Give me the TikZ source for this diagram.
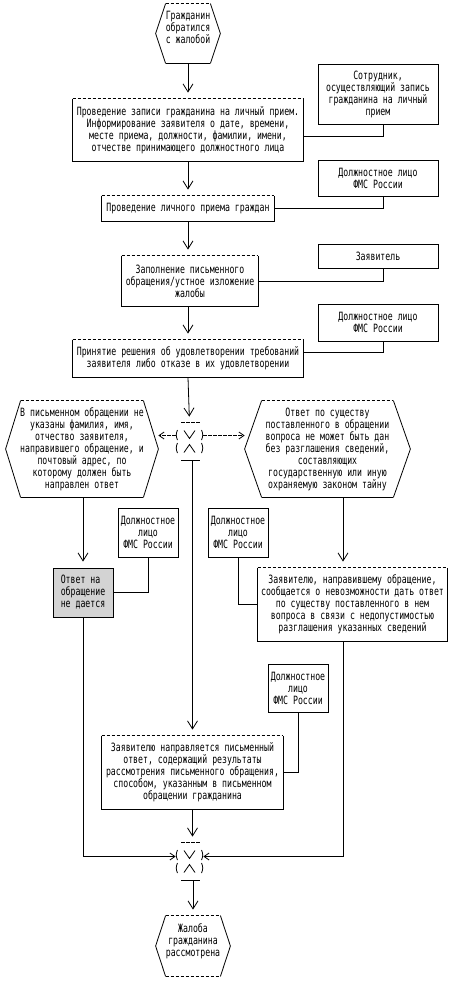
\documentclass[tikz,border=0pt]{standalone}
\usepackage{fontspec}
\newfontfamily\asciifont[FakeStretch=0.72]{DejaVu Sans Mono}
\usetikzlibrary{arrows.meta, positioning, calc}
\definecolor{shade}{HTML}{D3D3D3}

\tikzset{
  txt/.style={font=\asciifont\fontsize{11.4}{12}\selectfont, align=center, inner sep=0pt},
  rolebox/.style={txt, draw},
  procbox/.style={txt},
  hexbox/.style={txt},
  gatebox/.style={inner sep=0pt, minimum width=27pt, minimum height=37pt},
  dashline/.style={dash pattern=on 3.5pt off 1.5pt},
  flowarrow/.style={-{Straight Barb[length=8pt,width=10pt]}, shorten >=6pt},
  sidearrow/.style={-{Straight Barb[length=5pt,width=7pt]}},
}

% box with a dashed top edge
\newcommand{\procframe}[1]{%
  \draw[dashline] (#1.north west) -- (#1.north east);
  \draw (#1.north west) -- (#1.south west) -- (#1.south east) -- (#1.north east);
}
% hexagon: node, inset, top style, bottom style
\newcommand{\hexframe}[4]{%
  \draw[#3] ($(#1.north west)+(#2,0)$) -- ($(#1.north east)+(-#2,0)$);
  \draw[#4] ($(#1.south west)+(#2,0)$) -- ($(#1.south east)+(-#2,0)$);
  \draw ($(#1.north west)+(#2,0)$) -- (#1.west) -- ($(#1.south west)+(#2,0)$);
  \draw ($(#1.north east)+(-#2,0)$) -- (#1.east) -- ($(#1.south east)+(-#2,0)$);
}
% branching point
\newcommand{\gateframe}[1]{%
  \draw[dashline] ($(#1.north)+(-8.5,0)$) -- ($(#1.north)+(10.5,0)$);
  \draw ($(#1.south)+(-8.5,0)$) -- ($(#1.south)+(10.5,0)$);
  \draw ($(#1.center)+(-5.5,-11)$) -- ($(#1.center)+(0,-3)$) -- ($(#1.center)+(5.5,-11)$)
        ($(#1.center)+(-5.5,11)$) -- ($(#1.center)+(0,3)$) -- ($(#1.center)+(5.5,11)$);
  \draw ($(#1.center)+(-12,-11.5)$) to[bend right=25] ($(#1.center)+(-12,-1.5)$)
        ($(#1.center)+(-12,1.5)$) to[bend right=25] ($(#1.center)+(-12,11.5)$)
        ($(#1.center)+(12,-11.5)$) to[bend left=25] ($(#1.center)+(12,-1.5)$)
        ($(#1.center)+(12,1.5)$) to[bend left=25] ($(#1.center)+(12,11.5)$);
}

\begin{document}
\begin{tikzpicture}[x=1pt, y=-1pt, line width=0.8pt]
  \useasboundingbox (0,0) rectangle (456,983);

  % main column
  \node[hexbox, minimum width=64pt, minimum height=59pt] (start) at (188,33.5)
    {Гражданин\\обратился\\с жалобой\\~};
  \hexframe{start}{10}{dashline}{}

  \node[procbox, minimum width=230pt, minimum height=62pt] (record) at (188,130)
    {Проведение записи гражданина на личный прием.\\Информирование заявителя о дате, времени,\\месте приема, должности, фамилии, имени,\\отчестве принимающего должностного лица};
  \procframe{record}

  \node[procbox, minimum width=172pt, minimum height=25pt] (reception) at (188,208.5)
    {Проведение личного приема граждан};
  \procframe{reception}

  \node[procbox, minimum width=136pt, minimum height=50pt] (filling) at (190,281)
    {Заполнение письменного\\обращения/устное изложение\\жалобы};
  \procframe{filling}

  \node[procbox, minimum width=230pt, minimum height=37pt] (decision) at (188,358.5)
    {Принятие решения об удовлетворении требований\\заявителя либо отказе в их удовлетворении};
  \procframe{decision}

  \node[gatebox] (gateA) at (189.5,441.5) {};
  \gateframe{gateA}

  % who does what
  \node[rolebox, minimum width=120pt, minimum height=60pt] (clerk) at (378,94)
    {Сотрудник,\\осуществляющий запись\\гражданина на личный\\прием};
  \node[rolebox, minimum width=120pt, minimum height=36pt] (officerA) at (378,178)
    {Должностное лицо\\ФМС России};
  \node[rolebox, minimum width=120pt, minimum height=24pt] (applicant) at (378,256)
    {Заявитель};
  \node[rolebox, minimum width=120pt, minimum height=37pt] (officerB) at (378,322.5)
    {Должностное лицо\\ФМС России};

  % branches
  \node[hexbox, minimum width=152pt, minimum height=96pt] (nodata) at (82,449)
    {В письменном обращении не\\указаны фамилия, имя,\\отчество заявителя,\\направившего обращение, и\\почтовый адрес, по\\которому должен быть\\направлен ответ};
  \hexframe{nodata}{15}{dashline}{}

  \node[hexbox, minimum width=165pt, minimum height=96pt] (secret) at (327.5,449)
    {Ответ по существу\\поставленного в обращении\\вопроса не может быть дан\\без разглашения сведений,\\составляющих\\государственную или иную\\охраняемую законом тайну};
  \hexframe{secret}{17}{dashline}{}

  \node[rolebox, fill=shade, align=left, minimum width=60pt, minimum height=49pt] (noanswer) at (83,592.5)
    {Ответ на\\обращение\\не дается};
  \node[rolebox, minimum width=60pt, minimum height=49pt] (officerC) at (148,532.5)
    {Должностное\\лицо\\ФМС России};
  \node[rolebox, minimum width=60pt, minimum height=49pt] (officerD) at (238,532.5)
    {Должностное\\лицо\\ФМС России};

  \node[procbox, minimum width=189pt, minimum height=73pt] (notify) at (352.5,604.5)
    {Заявителю, направившему обращение,\\сообщается о невозможности дать ответ\\по существу поставленного в нем\\вопроса в связи с недопустимостью\\разглашения указанных сведений};
  \procframe{notify}

  \node[rolebox, minimum width=60pt, minimum height=48pt] (officerE) at (298,688)
    {Должностное\\лицо\\ФМС России};

  \node[procbox, minimum width=181pt, minimum height=73pt] (reply) at (192.5,772.5)
    {Заявителю направляется письменный\\ответ, содержащий результаты\\рассмотрения письменного обращения,\\способом, указанным в письменном\\обращении гражданина};
  \procframe{reply}

  \node[gatebox] (gateB) at (189.5,861.5) {};
  \gateframe{gateB}

  \node[hexbox, minimum width=74pt, minimum height=60pt] (finish) at (193,946)
    {Жалоба\\гражданина\\рассмотрена\\~};
  \hexframe{finish}{10}{dashline}{dashline}

  % connectors
  \draw[flowarrow] (start.south) -- (record.north);
  \draw[flowarrow] (record.south) -- (reception.north);
  \draw[flowarrow] (reception.south) -- (reception.south |- filling.north);
  \draw[flowarrow] (reception.south |- filling.south) -- (decision.north);
  \draw[flowarrow] (decision.south) -- (gateA.north);

  \draw ($(clerk.south)+(5,0)$) |- ($(record.east)+(0,6)$);
  \draw ($(officerA.south)+(5,0)$) |- (reception.east);
  \draw ($(applicant.south)+(5,0)$) |- (filling.east);
  \draw ($(officerB.south)+(5,0)$) |- ($(decision.east)+(0,-6)$);

  \draw[dashline, sidearrow] ([yshift=6pt]gateA.west) -- ([yshift=6pt]gateA.west -| nodata.east);
  \draw[dashline, sidearrow] ([yshift=6pt]gateA.east) -- ([yshift=6pt]gateA.east -| secret.west);

  \draw[flowarrow] (nodata.south -| noanswer.north) -- (noanswer.north);
  \draw (officerC.south) |- (noanswer.east);
  \draw[sidearrow] (noanswer.south) |- ([yshift=5pt]gateB.west);

  \draw[flowarrow] ($(secret.south)+(15.5,0)$) -- ($(notify.north)+(-9.5,0)$);
  \draw (officerD.south) |- (notify.west);
  \draw[sidearrow] ($(notify.south)+(-9.5,0)$) |- ([yshift=5pt]gateB.east);

  \draw[flowarrow] (gateA.south -| reply.north) -- (reply.north);
  \draw (officerE.south) |- (reply.east);
  \draw[flowarrow] (reply.south) -- (reply.south |- gateB.north);
  \draw[flowarrow] (gateB.south -| finish.north) -- (finish.north);
\end{tikzpicture}
\end{document}
